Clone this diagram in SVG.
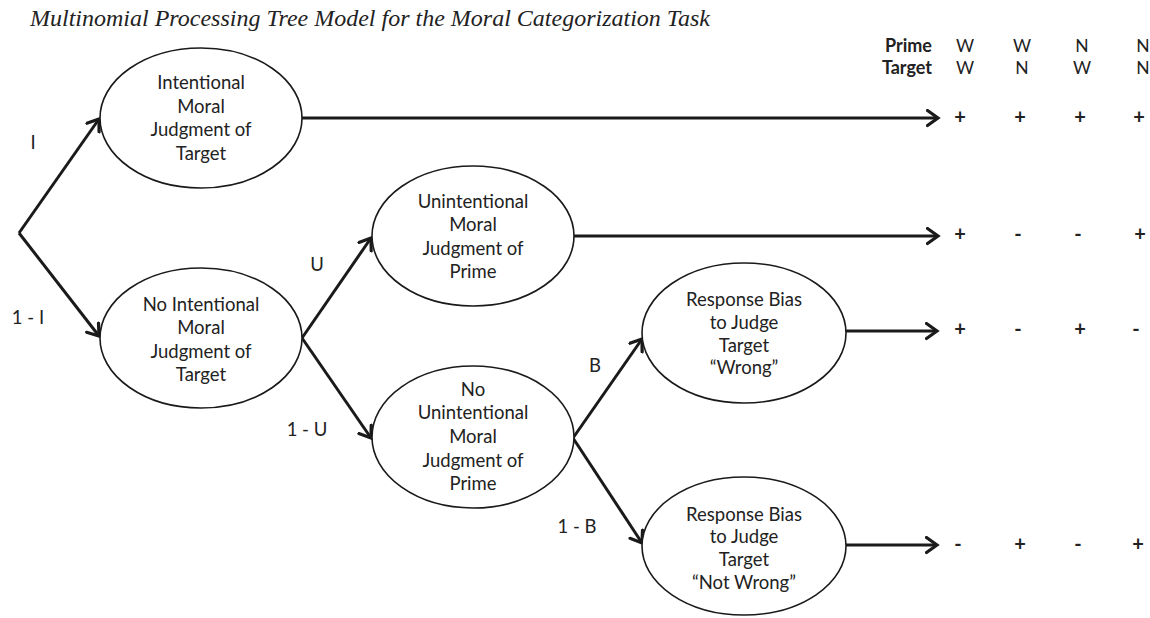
<svg xmlns="http://www.w3.org/2000/svg" width="1150" height="618" viewBox="0 0 1150 618">
<style>
  .title { font-family: "Liberation Serif", "Times New Roman", serif; font-style: italic; font-size: 24px; fill: #222; }
  .node ellipse { fill: #fff; stroke: #1a1a1a; stroke-width: 1.6; }
  .node text, .lbl { font-family: Lato, "Open Sans", "Liberation Sans", sans-serif; font-size: 18.5px; fill: #222; text-anchor: middle; }
  .conn line { stroke: #1a1a1a; stroke-width: 3; fill: none; marker-end: url(#arr); }
  .hdr { font-family: Lato, "Open Sans", "Liberation Sans", sans-serif; font-size: 18px; font-weight: bold; fill: #222; text-anchor: end; }
  .col { font-family: Lato, "Open Sans", "Liberation Sans", sans-serif; font-size: 17.5px; fill: #222; text-anchor: middle; }
  .sym { font-family: Lato, "Open Sans", "Liberation Sans", sans-serif; font-size: 20px; font-weight: bold; fill: #222; text-anchor: middle; }
</style>
<defs>
  <marker id="arr" markerUnits="userSpaceOnUse" markerWidth="16" markerHeight="20" refX="12" refY="9" orient="auto" viewBox="0 0 16 20">
    <path d="M1.5,1.5 L12,9 L1.5,16.5" fill="none" stroke="#1a1a1a" stroke-width="3.2" stroke-linejoin="miter" stroke-linecap="round"/>
  </marker>
</defs>

<text class="title" x="30" y="26">Multinomial Processing Tree Model for the Moral Categorization Task</text>

<g id="connectors" class="conn">
  <line x1="19" y1="233" x2="99" y2="119"/>
  <line x1="19" y1="233" x2="99" y2="336"/>
  <line x1="302" y1="118" x2="938" y2="118"/>
  <line x1="302" y1="338" x2="371" y2="238"/>
  <line x1="302" y1="338" x2="371" y2="438"/>
  <line x1="574" y1="236" x2="938" y2="236"/>
  <line x1="573" y1="438" x2="642" y2="339"/>
  <line x1="573" y1="438" x2="642" y2="543"/>
  <line x1="846" y1="331" x2="937" y2="331"/>
  <line x1="846" y1="545" x2="937" y2="545"/>
</g>

<g id="node-intentional" class="node">
  <ellipse cx="201" cy="118" rx="101" ry="70"/>
  <text x="201" y="89">Intentional</text>
  <text x="201" y="113">Moral</text>
  <text x="201" y="136">Judgment of</text>
  <text x="201" y="160">Target</text>
</g>

<g id="node-no-intentional" class="node">
  <ellipse cx="201" cy="338" rx="101" ry="70"/>
  <text x="201" y="311">No Intentional</text>
  <text x="201" y="334">Moral</text>
  <text x="201" y="358">Judgment of</text>
  <text x="201" y="381">Target</text>
</g>

<g id="node-unintentional" class="node">
  <ellipse cx="473" cy="236" rx="101" ry="70"/>
  <text x="473" y="208">Unintentional</text>
  <text x="473" y="231">Moral</text>
  <text x="473" y="255">Judgment of</text>
  <text x="473" y="278">Prime</text>
</g>

<g id="node-no-unintentional" class="node">
  <ellipse cx="473" cy="437" rx="101" ry="71"/>
  <text x="473" y="396">No</text>
  <text x="473" y="419">Unintentional</text>
  <text x="473" y="443">Moral</text>
  <text x="473" y="467">Judgment of</text>
  <text x="473" y="490">Prime</text>
</g>

<g id="node-bias-wrong" class="node">
  <ellipse cx="744" cy="333" rx="102" ry="70"/>
  <text x="744" y="306">Response Bias</text>
  <text x="744" y="329">to Judge</text>
  <text x="744" y="352">Target</text>
  <text x="744" y="374">“Wrong”</text>
</g>

<g id="node-bias-not-wrong" class="node">
  <ellipse cx="744" cy="546" rx="102" ry="69"/>
  <text x="744" y="521">Response Bias</text>
  <text x="744" y="543">to Judge</text>
  <text x="744" y="566">Target</text>
  <text x="744" y="589">“Not Wrong”</text>
</g>

<g id="edge-labels">
  <text class="lbl" x="33" y="149">I</text>
  <text class="lbl" x="28" y="324">1 - I</text>
  <text class="lbl" x="317" y="271">U</text>
  <text class="lbl" x="307" y="436">1 - U</text>
  <text class="lbl" x="595" y="372">B</text>
  <text class="lbl" x="577" y="533">1 - B</text>
</g>

<g id="outcome-table">
  <text class="hdr" x="932" y="52">Prime</text>
  <text class="hdr" x="932" y="74">Target</text>
  <text class="col" x="965" y="52">W</text>
  <text class="col" x="1022" y="52">W</text>
  <text class="col" x="1082" y="52">N</text>
  <text class="col" x="1143" y="52">N</text>
  <text class="col" x="965" y="74">W</text>
  <text class="col" x="1022" y="74">N</text>
  <text class="col" x="1082" y="74">W</text>
  <text class="col" x="1143" y="74">N</text>

  <text class="sym" x="960" y="124">+</text>
  <text class="sym" x="1020" y="124">+</text>
  <text class="sym" x="1080" y="124">+</text>
  <text class="sym" x="1139" y="124">+</text>

  <text class="sym" x="960" y="241">+</text>
  <text class="sym" x="1018" y="241">-</text>
  <text class="sym" x="1078" y="241">-</text>
  <text class="sym" x="1140" y="241">+</text>

  <text class="sym" x="960" y="336">+</text>
  <text class="sym" x="1018" y="336">-</text>
  <text class="sym" x="1080" y="336">+</text>
  <text class="sym" x="1136" y="336">-</text>

  <text class="sym" x="958" y="551">-</text>
  <text class="sym" x="1020" y="551">+</text>
  <text class="sym" x="1078" y="551">-</text>
  <text class="sym" x="1138" y="551">+</text>
</g>
</svg>
